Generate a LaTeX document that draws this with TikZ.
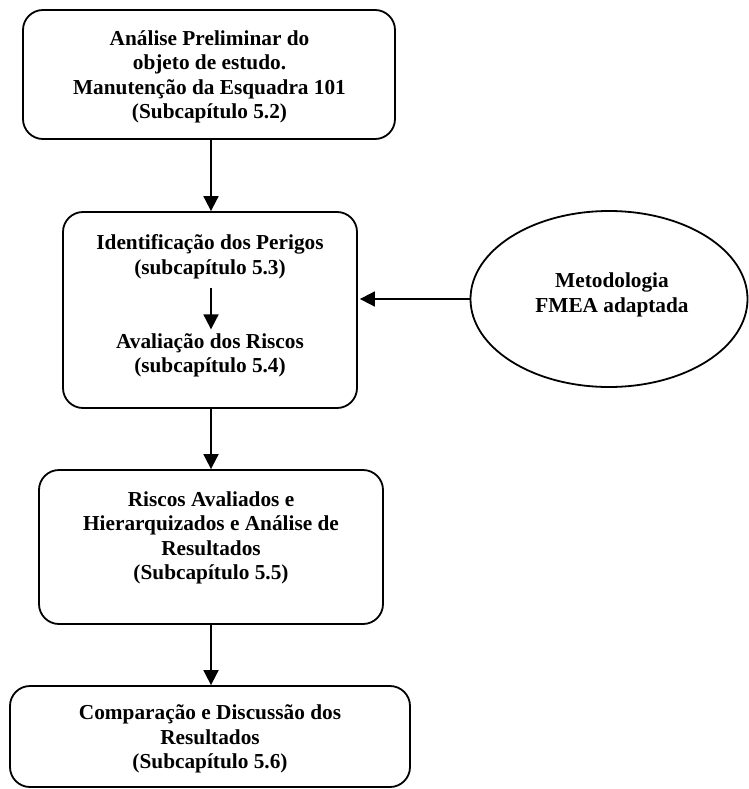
\documentclass[tikz,border=0pt]{standalone}
\usepackage{fontspec}
\setmainfont{Liberation Serif}
\usetikzlibrary{arrows.meta,shapes.geometric}
\begin{document}
\begin{tikzpicture}[x=1pt,y=-1pt,
  box/.style={draw,line width=1.8pt,rounded corners=20pt,inner sep=0pt},
  txt/.style={align=center,font=\fontsize{21.3}{24.5}\selectfont\bfseries,inner sep=0pt},
  arr/.style={line width=1.8pt,-{Triangle[width=15pt,length=15pt]}}]
\useasboundingbox (0,0) rectangle (748,789);
% boxes
\node[box,minimum width=372pt,minimum height=129pt] (b1) at (209,74.5) {};
\node[box,minimum width=294pt,minimum height=196pt] (b2) at (210,310) {};
\node[box,minimum width=344pt,minimum height=154pt] (b3) at (211,547) {};
\node[box,minimum width=400pt,minimum height=101pt] (b4) at (210,736.5) {};
\node[draw,line width=1.8pt,ellipse,minimum width=277pt,minimum height=176pt,inner sep=0pt] (ell) at (609,299) {};
% texts
\node[txt] (t1) at (209.5,77) {Análise Preliminar do\\objeto de estudo.\\Manutenção da Esquadra 101\\(Subcapítulo 5.2)};
\node[txt] (t2a) at (210,257) {Identificação dos Perigos\\(subcapítulo 5.3)};
\node[txt] (t2b) at (210,355.5) {Avaliação dos Riscos\\(subcapítulo 5.4)};
\node[txt] (t3) at (211,538) {Riscos Avaliados e\\Hierarquizados e Análise de\\Resultados\\(Subcapítulo 5.5)};
\node[txt] (t4) at (210,739) {Comparação e Discussão dos\\Resultados\\(Subcapítulo 5.6)};
\node[txt] (te) at (612,295) {Metodologia\\FMEA adaptada};
% connectors
\coordinate (ax) at (211,0);
\draw[arr] (b1.south -| ax) -- (b2.north -| ax);
\draw[arr,shorten <=9pt,shorten >=4pt] (t2a.south -| ax) -- (t2b.north -| ax);
\draw[arr] (b2.south -| ax) -- (b3.north -| ax);
\draw[arr] (b3.south -| ax) -- (b4.north -| ax);
\draw[arr,shorten >=2pt] (ell.west) -- (ell.west -| b2.east);
\end{tikzpicture}
\end{document}
